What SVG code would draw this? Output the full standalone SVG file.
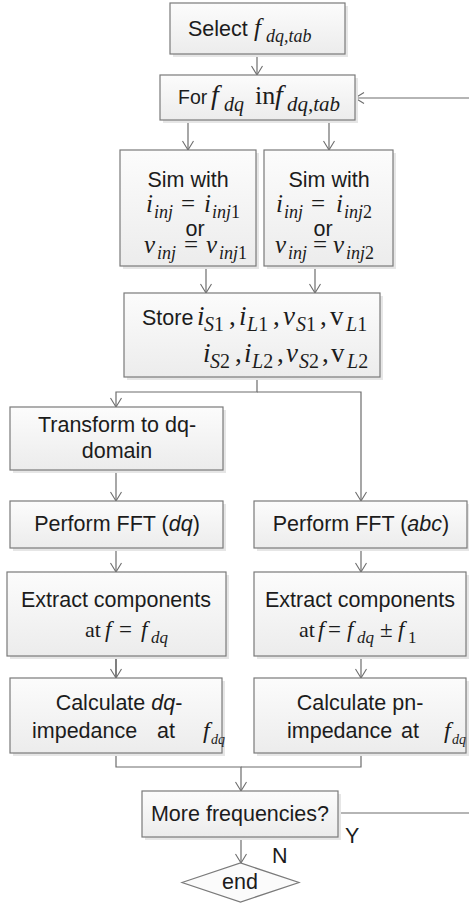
<svg xmlns="http://www.w3.org/2000/svg" width="469" height="906" viewBox="0 0 469 906">
<defs>
<linearGradient id="g" x1="0" y1="0" x2="0" y2="1">
<stop offset="0" stop-color="#fcfcfc"/>
<stop offset="1" stop-color="#ececec"/>
</linearGradient>
<marker id="ah" markerWidth="12" markerHeight="12" refX="10" refY="6" orient="auto" markerUnits="userSpaceOnUse">
<path d="M1,0.5 L10,6 L1,11.5" fill="none" stroke="#6d6d6d" stroke-width="1.1"/>
</marker>
</defs>
<style>
.box{fill:url(#g);stroke:#7a7a7a;stroke-width:1.2}
.sh{fill:#e6e6e6}
.c{fill:none;stroke:#6d6d6d;stroke-width:1.2}
.t{font-family:"Liberation Sans",Arial,sans-serif;font-size:21.5px;fill:#1c1c1c}
.m{font-family:"Liberation Serif","Times New Roman",serif;font-style:italic;font-size:25px;fill:#1c1c1c}
.r{font-family:"Liberation Serif","Times New Roman",serif;font-size:25px;fill:#1c1c1c}
.s{font-family:"Liberation Serif","Times New Roman",serif;font-style:italic;font-size:18px;fill:#1c1c1c}
.sr{font-family:"Liberation Serif","Times New Roman",serif;font-style:normal}
.mid{text-anchor:middle}
</style>

<g id="connectors">
<path class="c" d="M257,54 V75" marker-end="url(#ah)"/>
<path class="c" d="M188,120 V150" marker-end="url(#ah)"/>
<path class="c" d="M329,120 V150" marker-end="url(#ah)"/>
<path class="c" d="M206,266 V293" marker-end="url(#ah)"/>
<path class="c" d="M315,266 V293" marker-end="url(#ah)"/>
<path class="c" d="M257,377 V392 H116 V407" marker-end="url(#ah)"/>
<path class="c" d="M257,392 H361 V501" marker-end="url(#ah)"/>
<path class="c" d="M116,470 V501" marker-end="url(#ah)"/>
<path class="c" d="M116,548 V572" marker-end="url(#ah)"/>
<path class="c" d="M361,548 V572" marker-end="url(#ah)"/>
<path class="c" d="M116,656 V678" marker-end="url(#ah)" style="stroke:#2a2a2a"/>
<path class="c" d="M361,656 V678" marker-end="url(#ah)"/>
<path class="c" d="M116,753 V767 H241 V791" marker-end="url(#ah)"/>
<path class="c" d="M361,753 V767 H241"/>
<path class="c" d="M241,837 V863" marker-end="url(#ah)"/>
<path class="c" d="M338,813 H485 V98 H355" marker-end="url(#ah)"/>
</g>

<g id="select">
<rect class="sh" x="173" y="6" width="175" height="51"/>
<rect class="box" x="170" y="3" width="175" height="51"/>
<text class="t" x="188" y="36">Select</text>
<text class="m" x="254" y="36">f</text>
<text class="s" x="266" y="42">dq,tab</text>
</g>

<g id="for">
<rect class="sh" x="163" y="78" width="195" height="45"/>
<rect class="box" x="160" y="75" width="195" height="45"/>
<text class="t" x="178" y="104" style="font-size:19.5px">For</text>
<text class="m" x="211" y="104" style="font-size:28px">f</text>
<text class="s" x="224" y="111" style="font-size:20px">dq</text>
<text class="r" x="255" y="104" style="font-size:26px">in</text>
<text class="m" x="275" y="104" style="font-size:28px">f</text>
<text class="s" x="287" y="111" style="font-size:21px">dq,tab</text>
</g>

<g id="sim1">
<rect class="sh" x="123" y="153" width="136" height="116"/>
<rect class="box" x="120" y="150" width="136" height="116"/>
<text class="t mid" x="188" y="187">Sim with</text>
<text class="m" x="146" y="212">i</text>
<text class="s" x="154" y="218">inj</text>
<text class="r" x="181" y="212">=</text>
<text class="m" x="204" y="212">i</text>
<text class="s" x="212" y="218">inj<tspan class="sr">1</tspan></text>
<text class="t mid" x="195" y="236">or</text>
<text class="m" x="144" y="253">v</text>
<text class="s" x="157" y="259">inj</text>
<text class="r" x="184" y="253">=</text>
<text class="m" x="206" y="253">v</text>
<text class="s" x="219" y="259">inj<tspan class="sr">1</tspan></text>
</g>

<g id="sim2">
<rect class="sh" x="267" y="153" width="129" height="116"/>
<rect class="box" x="264" y="150" width="129" height="116"/>
<text class="t mid" x="329" y="187">Sim with</text>
<text class="m" x="276" y="212">i</text>
<text class="s" x="284" y="218">inj</text>
<text class="r" x="311" y="212">=</text>
<text class="m" x="336" y="212">i</text>
<text class="s" x="344" y="218">inj<tspan class="sr">2</tspan></text>
<text class="t mid" x="323" y="236">or</text>
<text class="m" x="275" y="253">v</text>
<text class="s" x="288" y="259">inj</text>
<text class="r" x="313" y="253">=</text>
<text class="m" x="333" y="253">v</text>
<text class="s" x="346" y="259">inj<tspan class="sr">2</tspan></text>
</g>

<g id="store">
<rect class="sh" x="127" y="296" width="256" height="84"/>
<rect class="box" x="124" y="293" width="256" height="84"/>
<text class="t" x="142" y="325">Store</text>
<text class="m" x="197" y="325" style="font-size:27px">i</text><text class="s" x="204" y="331" style="font-size:20px">S<tspan class="sr">1</tspan></text>
<text class="r" x="229" y="325" style="font-size:27px">,</text>
<text class="m" x="239" y="325" style="font-size:27px">i</text><text class="s" x="247" y="331" style="font-size:20px">L<tspan class="sr">1</tspan></text>
<text class="r" x="273" y="325" style="font-size:27px">,</text>
<text class="m" x="283" y="325" style="font-size:27px">v</text><text class="s" x="296" y="331" style="font-size:20px">S<tspan class="sr">1</tspan></text>
<text class="r" x="320" y="325" style="font-size:27px">,</text>
<text class="r" x="330" y="325" style="font-size:27px">v</text><text class="s" x="346" y="331" style="font-size:20px">L<tspan class="sr">1</tspan></text>
<text class="m" x="203" y="362" style="font-size:27px">i</text><text class="s" x="210" y="368" style="font-size:20px">S<tspan class="sr">2</tspan></text>
<text class="r" x="235" y="362" style="font-size:27px">,</text>
<text class="m" x="244" y="362" style="font-size:27px">i</text><text class="s" x="252" y="368" style="font-size:20px">L<tspan class="sr">2</tspan></text>
<text class="r" x="277" y="362" style="font-size:27px">,</text>
<text class="m" x="286" y="362" style="font-size:27px">v</text><text class="s" x="299" y="368" style="font-size:20px">S<tspan class="sr">2</tspan></text>
<text class="r" x="322" y="362" style="font-size:27px">,</text>
<text class="r" x="331" y="362" style="font-size:27px">v</text><text class="s" x="347" y="368" style="font-size:20px">L<tspan class="sr">2</tspan></text>
</g>

<g id="transform">
<rect class="sh" x="13" y="410" width="213" height="63"/>
<rect class="box" x="10" y="407" width="213" height="63"/>
<text class="t mid" x="117" y="432">Transform to dq-</text>
<text class="t mid" x="117" y="458">domain</text>
</g>

<g id="fft-dq">
<rect class="sh" x="13" y="504" width="213" height="47"/>
<rect class="box" x="10" y="501" width="213" height="47"/>
<text class="t mid" x="117" y="531">Perform FFT (<tspan font-style="italic">dq</tspan>)</text>
</g>

<g id="fft-abc">
<rect class="sh" x="257" y="504" width="213" height="47"/>
<rect class="box" x="254" y="501" width="213" height="47"/>
<text class="t mid" x="361" y="531">Perform FFT (<tspan font-style="italic">abc</tspan>)</text>
</g>

<g id="extract-dq">
<rect class="sh" x="10" y="575" width="219" height="84"/>
<rect class="box" x="7" y="572" width="219" height="84"/>
<text class="t mid" x="116" y="607">Extract components</text>
<text class="r" x="85" y="637" style="font-size:22px">at</text>
<text class="m" x="105" y="637" style="font-size:23px">f</text>
<text class="r" x="119" y="637" style="font-size:23px">=</text>
<text class="m" x="141" y="637" style="font-size:23px">f</text>
<text class="s" x="151" y="643" style="font-size:17px">dq</text>
</g>

<g id="extract-abc">
<rect class="sh" x="257" y="575" width="212" height="84"/>
<rect class="box" x="254" y="572" width="212" height="84"/>
<text class="t mid" x="360" y="607">Extract components</text>
<text class="r" x="299" y="637" style="font-size:22px">at</text>
<text class="m" x="318" y="637" style="font-size:23px">f</text>
<text class="r" x="328" y="637" style="font-size:23px">=</text>
<text class="m" x="347" y="637" style="font-size:23px">f</text>
<text class="s" x="357" y="643" style="font-size:17px">dq</text>
<text class="r" x="380" y="637" style="font-size:23px">±</text>
<text class="m" x="398" y="637" style="font-size:23px">f</text>
<text class="s sr" x="408" y="643" style="font-size:17px">1</text>
</g>

<g id="calc-dq">
<rect class="sh" x="13" y="681" width="212" height="75"/>
<rect class="box" x="10" y="678" width="212" height="75"/>
<text class="t mid" x="119" y="710">Calculate <tspan font-style="italic">dq</tspan>-</text>
<text class="t" x="32" y="738">impedance</text>
<text class="t" x="157" y="738">at</text>
<text class="m" x="203" y="738" style="font-size:24px">f</text>
<text class="s" x="211" y="744" style="font-size:14px">dq</text>
</g>

<g id="calc-pn">
<rect class="sh" x="257" y="681" width="212" height="75"/>
<rect class="box" x="254" y="678" width="212" height="75"/>
<text class="t mid" x="360" y="710">Calculate pn-</text>
<text class="t" x="287" y="738">impedance</text>
<text class="t" x="401" y="738">at</text>
<text class="m" x="444" y="738" style="font-size:24px">f</text>
<text class="s" x="452" y="744" style="font-size:14px">dq</text>
</g>

<g id="more">
<rect class="sh" x="145" y="794" width="196" height="46"/>
<rect class="box" x="142" y="791" width="196" height="46"/>
<text class="t mid" x="240" y="821">More frequencies?</text>
</g>

<g id="labels">
<text class="t" x="345" y="843">Y</text>
<text class="t" x="272" y="863">N</text>
</g>

<g id="end">
<path class="box" d="M182,882.5 L240.5,863 L299,882.5 L240.5,902 Z" style="fill:#fbfbfb"/>
<text class="t mid" x="240" y="889">end</text>
</g>
</svg>
